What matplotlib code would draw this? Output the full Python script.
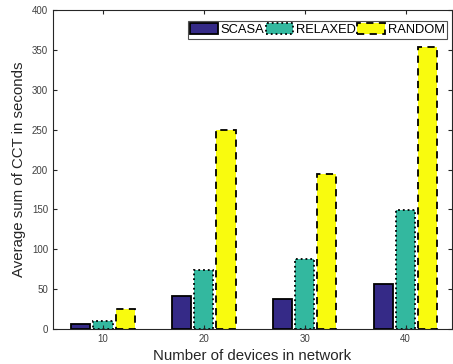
import numpy as np
import matplotlib.pyplot as plt

plt.rcParams["font.family"] = ["Liberation Sans", "DejaVu Sans"]

devices = [10, 20, 30, 40]
scasa = [6, 42, 38, 57]
relaxed = [10, 74, 88, 149]
random_ = [25, 249, 194, 354]

fig = plt.figure(figsize=(4.53, 3.64), dpi=100)
ax = fig.add_axes([53/453, 35/364, 399/453, 319/364])

x = np.array(devices, dtype=float)
w = 1.9
off = 2.2
ax.bar(x - off, scasa, w, color="#352a87", edgecolor="black", linewidth=1.3, label="SCASA")
ax.bar(x, relaxed, w, color="#33b89f", edgecolor="black", linewidth=1.3,
       linestyle=":", label="RELAXED")
ax.bar(x + off, random_, w, color="#f9fb0e", edgecolor="black", linewidth=1.3,
       linestyle=(0, (4, 3)), label="RANDOM")

ax.set_xlim(5.05, 44.6)
ax.set_ylim(0, 400)
ax.set_xticks(devices)
ax.set_yticks(range(0, 401, 50))
ax.tick_params(direction="in", labelsize=7, colors="#262626", length=3,
               top=True, right=True, labelcolor="#404040")
for s in ax.spines.values():
    s.set_color("#262626")
    s.set_linewidth(0.8)

ax.set_xlabel("Number of devices in network", fontsize=10.8, color="#262626")
ax.set_ylabel("Average sum of CCT in seconds", fontsize=10.8, color="#262626")

leg = ax.legend(loc="upper right", ncol=3, fontsize=9.3, frameon=True, fancybox=False,
                edgecolor="#262626", handlelength=2.1, handleheight=0.9,
                columnspacing=0.1, handletextpad=0.25, borderpad=0.2,
                borderaxespad=0, bbox_to_anchor=(0.988, 0.967))
leg.get_frame().set_linewidth(0.8)

fig.savefig("out.png", dpi=100)
